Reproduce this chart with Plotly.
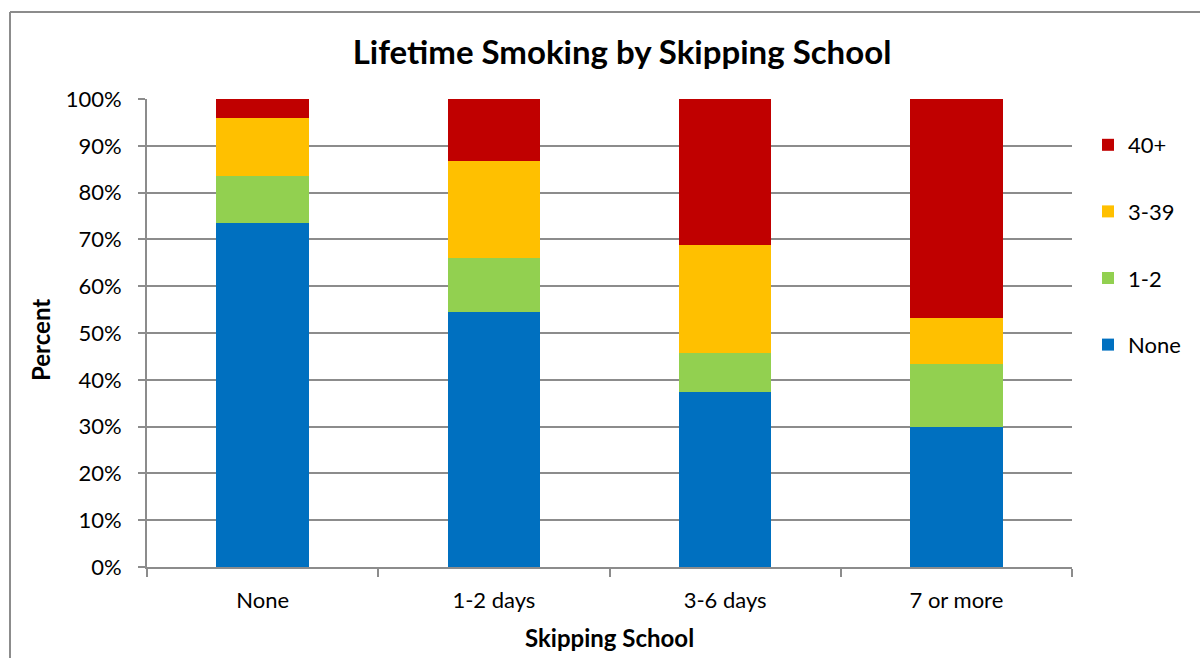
import plotly.graph_objects as go

# Categories and stacked percentages (each bar sums to 100)
categories = ["None", "1-2 days", "3-6 days", "7 or more"]
series_names = ["None", "1-2", "3-39", "40+"]
pct_none = [73.4, 54.5, 37.4, 30.0]
pct_1_2 = [10.2, 11.5, 8.3, 13.3]
pct_3_39 = [12.3, 20.7, 23.1, 10.0]
pct_40_plus = [4.1, 13.3, 31.2, 46.7]
y_ticks = [0, 10, 20, 30, 40, 50, 60, 70, 80, 90, 100]

series_values = [pct_none, pct_1_2, pct_3_39, pct_40_plus]
colors = ["#0070C0", "#92D050", "#FFC000", "#C00000"]

W, H = 1200, 658
L, R, T, B = 147, 128, 99, 91
pw, ph = W - L - R, H - T - B

FONT = "Lato"
GRID = "#8c8c8c"

fig = go.Figure()
n = len(series_names)
for i, (name, vals, col) in enumerate(zip(series_names, series_values, colors)):
    fig.add_trace(go.Bar(
        x=categories, y=vals, name=name, legendgroup=name,
        legendrank=n - i,  # top segment listed first
        marker=dict(color=col, line=dict(width=0)),
    ))


def px_x(p):
    return (p - L) / pw


def px_y(p):
    return (H - B - p) / ph


fig.update_layout(
    width=W, height=H,
    margin=dict(l=L, r=R, t=T, b=B),
    paper_bgcolor="white", plot_bgcolor="white",
    barmode="stack", bargap=0.6,
    font=dict(family=FONT, color="#000000", size=22),
    title=dict(text="<b>Lifetime Smoking by Skipping School</b>",
               font=dict(family=FONT, size=33, color="#000000"),
               x=622 / W, xanchor="center", xref="container",
               y=1 - 52 / H, yanchor="middle", yref="container"),
    legend=dict(traceorder="grouped", x=px_x(1088), xanchor="left",
                y=px_y(124), yanchor="top", tracegroupgap=35,
                font=dict(family=FONT, size=22), bgcolor="rgba(0,0,0,0)"),
    showlegend=True,
)

fig.update_xaxes(
    type="category", tickson="boundaries", ticks="outside", ticklen=8,
    tickcolor=GRID, tickwidth=2, showline=True, linecolor=GRID, linewidth=2,
    showgrid=False, tickfont=dict(family=FONT, size=22), ticklabelstandoff=13,
)
fig.update_yaxes(
    range=[0, 100], tickvals=y_ticks, ticktext=[f"{v}%" for v in y_ticks],
    ticks="outside", ticklen=7, tickcolor=GRID, tickwidth=2,
    showline=True, linecolor=GRID, linewidth=2,
    showgrid=True, gridcolor=GRID, gridwidth=2, zeroline=False,
    tickfont=dict(family=FONT, size=22), ticklabelstandoff=12,
)

# Axis titles
fig.add_annotation(text="<b>Percent</b>", x=px_x(40), y=px_y(340),
                   xref="paper", yref="paper", showarrow=False, textangle=-90,
                   xanchor="center", yanchor="middle",
                   font=dict(family=FONT, size=24, color="#000000"))
fig.add_annotation(text="<b>Skipping School</b>", x=px_x(609), y=px_y(637),
                   xref="paper", yref="paper", showarrow=False,
                   xanchor="center", yanchor="middle",
                   font=dict(family=FONT, size=24, color="#000000"))

# Chart frame (top and left edges)
fig.add_shape(type="line", xref="paper", yref="paper",
              x0=px_x(10), x1=px_x(1215), y0=px_y(12), y1=px_y(12),
              line=dict(color=GRID, width=2))
fig.add_shape(type="line", xref="paper", yref="paper",
              x0=px_x(10), x1=px_x(10), y0=px_y(12), y1=px_y(670),
              line=dict(color=GRID, width=2))

fig.write_html("out.html")
